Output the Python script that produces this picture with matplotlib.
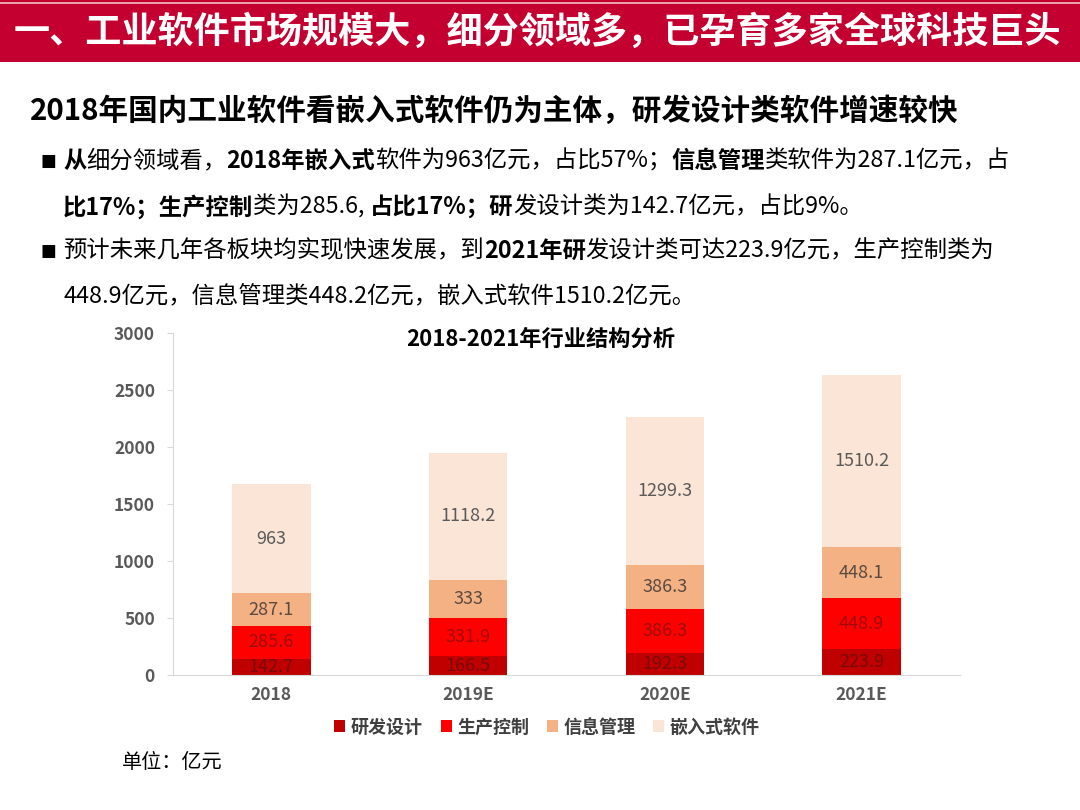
import matplotlib
matplotlib.use("Agg")
import matplotlib.pyplot as plt
from matplotlib.patches import Rectangle, Patch
import numpy as np

plt.rcParams['font.family'] = ['Noto Sans CJK SC', 'DejaVu Sans']

# ---------------- data ----------------
categories = ['2018', '2019E', '2020E', '2021E']
series_names = ['研发设计', '生产控制', '信息管理', '嵌入式软件']
rd_design = [142.7, 166.5, 192.3, 223.9]
production = [285.6, 331.9, 386.3, 448.9]
info_mgmt = [287.1, 333, 386.3, 448.1]
embedded = [963, 1118.2, 1299.3, 1510.2]
yticks = [0, 500, 1000, 1500, 2000, 2500, 3000]

title_text = '一、工业软件市场规模大，细分领域多，已孕育多家全球科技巨头'
subtitle_text = '2018年国内工业软件看嵌入式软件仍为主体，研发设计类软件增速较快'
bullet_lines = [
    [('从', True), ('细分领域看，', False), ('2018年嵌入式', True), ('软件为963亿元，占比57%；', False),
     ('信息管理', True), ('类软件为287.1亿元，占', False)],
    [('比17%；生产控制', True), ('类为285.6, ', False), ('占比17%；研', True), ('发设计类为142.7亿元，占比9%。', False)],
    [('预计未来几年各板块均实现快速发展，到', False), ('2021年研', True), ('发设计类可达223.9亿元，生产控制类为', False)],
    [('448.9亿元，信息管理类448.2亿元，嵌入式软件1510.2亿元。', False)],
]
chart_title = '2018-2021年行业结构分析'
unit_text = '单位：亿元'

colors = ['#c00000', '#ff0000', '#f4b183', '#fbe5d6']
label_colors = ['#7a0a0a', '#a00a0a', '#5a4a42', '#5a5a5a']

W, H = 1080, 810
fig = plt.figure(figsize=(W / 100, H / 100), dpi=100)
fig.patch.set_facecolor('white')


def fx(px):
    return px / W


def fy(py):
    return 1 - py / H


# header bar
fig.patches.append(Rectangle((0, fy(62)), 1, 62 / H, transform=fig.transFigure,
                             facecolor='#c3002f', edgecolor='none', zorder=0))
fig.patches.append(Rectangle((0, fy(4)), 1, 1.5 / H, transform=fig.transFigure,
                             facecolor='#e8a0ad', edgecolor='none', zorder=1))
fig.text(fx(537), fy(32), title_text, color='white', fontsize=26, fontweight='bold',
         ha='center', va='center')

# subtitle
fig.text(fx(30), fy(111), subtitle_text, color='black', fontsize=21.3, fontweight='bold',
         ha='left', va='center')

renderer = fig.canvas.get_renderer()


def rich(x_px, y_px, segments, size):
    x = x_px
    for s, bold in segments:
        t = fig.text(fx(x), fy(y_px), s, fontsize=size,
                     fontweight='bold' if bold else 'normal',
                     ha='left', va='center', color='black')
        bb = t.get_window_extent(renderer)
        x += bb.width


line_y = [161, 207, 251, 296]
for i, (segs, y) in enumerate(zip(bullet_lines, line_y)):
    if i in (0, 2):
        fig.text(fx(40), fy(y), '■', fontsize=12, ha='left', va='center', color='black',
                 family=['DejaVu Sans'])
    rich(63, y, segs, 16.8)

# ---------------- chart ----------------
ax = fig.add_axes([fx(173), fy(675), fx(960) - fx(173), fy(333) - fy(675)])
x = np.arange(len(categories))
width = 0.40
bottom = np.zeros(len(categories))
for vals, name, col, lc in zip([rd_design, production, info_mgmt, embedded],
                               series_names, colors, label_colors):
    vals = np.array(vals, dtype=float)
    ax.bar(x, vals, width, bottom=bottom, color=col, label=name, zorder=2)
    for xi, b, v in zip(x, bottom, vals):
        ax.text(xi, b + v / 2, f'{v:g}', ha='center', va='center', fontsize=13,
                color=lc, zorder=3)
    bottom += vals

ax.set_xlim(-0.5, len(categories) - 0.5)
ax.set_ylim(0, 3000)
ax.set_yticks(yticks)
ax.set_yticklabels([str(t) for t in yticks], fontsize=12.5, color='#595959', fontweight='bold')
ax.set_xticks(x)
ax.set_xticklabels(categories, fontsize=12.5, color='#595959', fontweight='bold')
for s in ['top', 'right']:
    ax.spines[s].set_visible(False)
ax.spines['left'].set_color('#d9d9d9')
ax.spines['bottom'].set_color('#d9d9d9')
ax.tick_params(axis='y', length=4, color='#d9d9d9', pad=9)
ax.tick_params(axis='x', length=0, pad=8)

fig.text(fx(541), fy(339), chart_title, fontsize=16, fontweight='bold', color='black',
         ha='center', va='center')

handles = [Patch(facecolor=c, edgecolor='none', label=n) for c, n in zip(colors, series_names)]
leg = fig.legend(handles=handles, loc='center', bbox_to_anchor=(fx(547), fy(727)), ncol=4,
                 frameon=False, handlelength=0.6, handleheight=0.6, handletextpad=0.3,
                 columnspacing=1.0, prop={'size': 13, 'weight': 'bold'})
for t in leg.get_texts():
    t.set_color('#404040')

fig.text(fx(122), fy(763), unit_text, fontsize=14.5, color='black', ha='left', va='center')

fig.savefig('out.png', dpi=100)
